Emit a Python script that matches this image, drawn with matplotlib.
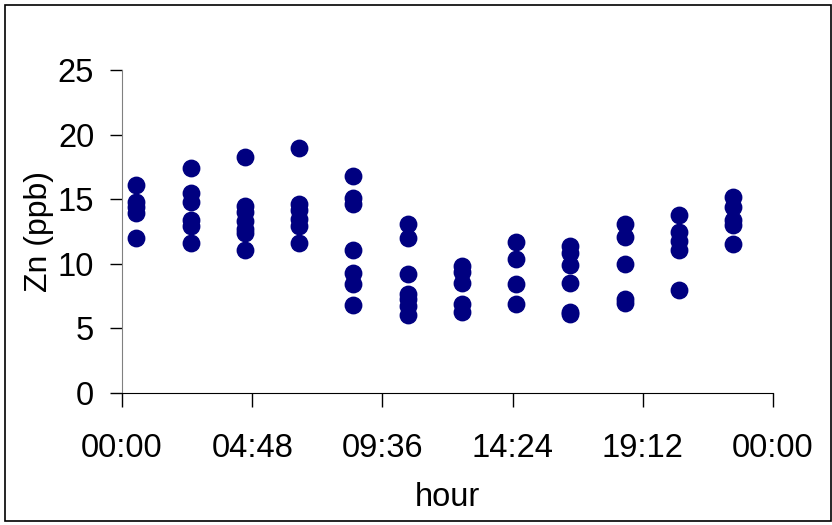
import matplotlib
matplotlib.use("Agg")
import matplotlib.pyplot as plt
from matplotlib.patches import Rectangle
from matplotlib.ticker import FuncFormatter, MultipleLocator

# Sampling times (hh:mm) and Zn concentrations (ppb)
times = ["00:32", "02:32", "04:32", "06:32", "08:32", "10:32",
         "12:32", "14:32", "16:32", "18:32", "20:32", "22:32"]
zn_values = [
    [16.1, 14.8, 14.4, 13.9, 12.0],
    [17.4, 15.5, 14.8, 13.4, 12.9, 11.6],
    [18.3, 14.5, 14.0, 13.3, 12.7, 12.4, 11.1],
    [19.0, 14.6, 14.2, 13.5, 12.9, 11.6],
    [16.8, 15.1, 14.6, 11.1, 9.3, 8.4, 6.8],
    [13.1, 12.0, 9.2, 7.7, 7.3, 6.7, 6.0],
    [9.8, 9.4, 8.5, 6.9, 6.3],
    [11.7, 10.4, 8.4, 6.9],
    [11.4, 10.8, 9.9, 8.5, 6.3, 6.1],
    [13.1, 12.1, 10.0, 7.3, 7.0],
    [13.8, 12.5, 11.8, 11.1, 8.0],
    [15.2, 14.4, 13.4, 13.0, 11.5],
]

plt.rcParams["font.family"] = ["Liberation Sans", "DejaVu Sans"]

# Aplatir les données
xs, ys = [], []
for t, vals in zip(times, zn_values):
    h, m = t.split(":")
    hour = int(h) + int(m) / 60
    for v in vals:
        xs.append(hour)
        ys.append(v)

fig = plt.figure(figsize=(8.32, 5.25), dpi=100)
ax = fig.add_axes([122 / 832, 1 - 393 / 525, (773 - 122) / 832, (393 - 70) / 525])

ax.scatter(xs, ys, s=140, color="#000080", zorder=3, clip_on=False)

ax.set_xlim(0, 24)
ax.set_ylim(0, 25)
ax.xaxis.set_major_locator(MultipleLocator(4.8))
ax.yaxis.set_major_locator(MultipleLocator(5))


def fmt_hour(x, pos):
    total = int(round(x * 60)) % (24 * 60)
    return "%02d:%02d" % (total // 60, total % 60)


ax.xaxis.set_major_formatter(FuncFormatter(fmt_hour))

for side in ["top", "right"]:
    ax.spines[side].set_visible(False)
ax.spines["left"].set_color("#808080")
ax.spines["bottom"].set_color("black")

ax.tick_params(axis="x", direction="out", length=10, width=1, pad=19,
               labelsize=23.5, colors="black")
ax.tick_params(axis="y", direction="out", length=9, width=1, pad=11,
               labelsize=23.5, colors="black")

ax.set_xlabel("hour", fontsize=23.5, labelpad=13)
ax.set_ylabel("Zn (ppb)", fontsize=23, labelpad=3)

# Bordure du graphique
fig.patches.append(Rectangle((5 / 832, 4 / 525), 826 / 832, 516 / 525,
                             transform=fig.transFigure, fill=False,
                             edgecolor="black", linewidth=1.2))

plt.savefig("out.png", dpi=100)
